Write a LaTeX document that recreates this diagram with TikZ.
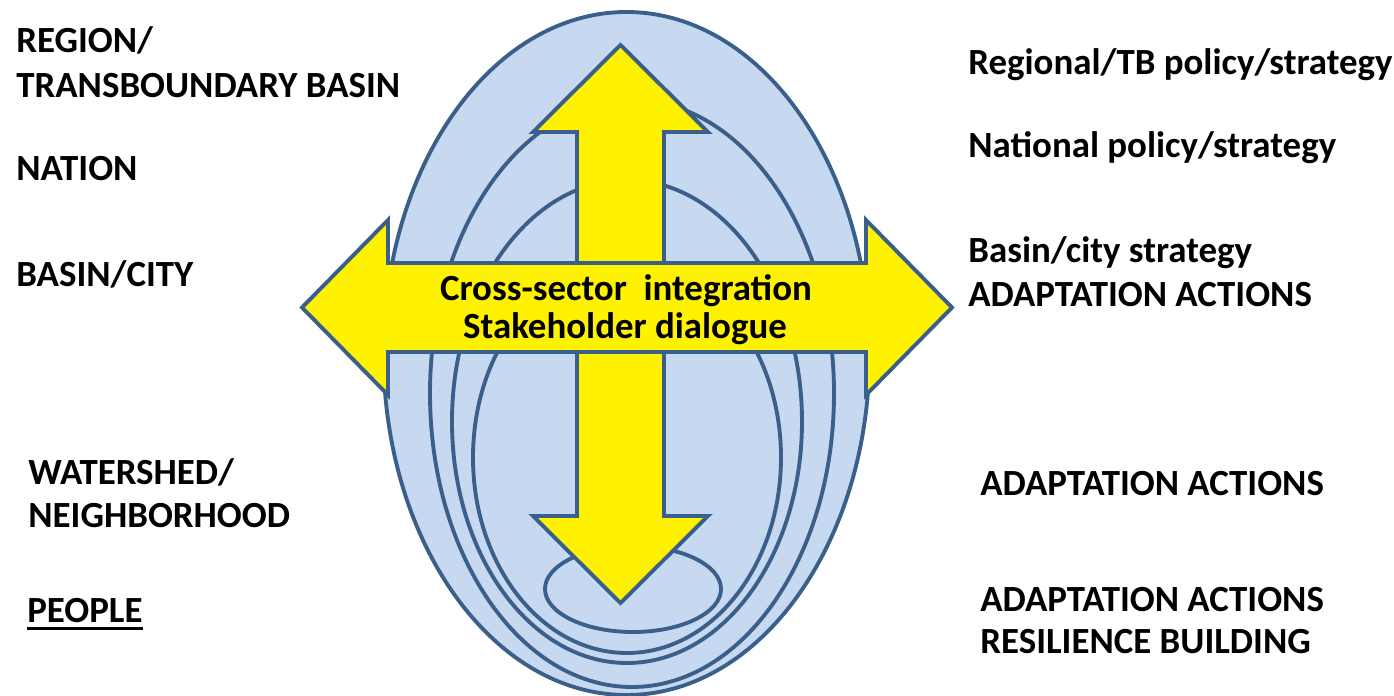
\documentclass[tikz,border=0pt]{standalone}
\usepackage{fontspec}
\setmainfont{Carlito}
\definecolor{ringblue}{HTML}{3A5F8B}
\definecolor{ringfill}{HTML}{C6D9F0}
\begin{document}
\begin{tikzpicture}[x=0.02cm,y=-0.02cm,
  ring/.style={draw=ringblue, line width=2.2pt, fill=ringfill},
  arrowshape/.style={draw=ringblue, line width=2.2pt, fill=yellow, line join=miter},
  lbl/.style={anchor=base west, inner sep=0pt, font=\fontsize{21}{25}\selectfont\bfseries},
  midlbl/.style={anchor=base, inner sep=0pt, font=\fontsize{21}{25}\selectfont\bfseries}]
\useasboundingbox (0,0) rectangle (1394,696);

% nested governance levels
\draw[ring] (626.5,353.5) ellipse [x radius=243, y radius=341.5];
\draw[ring] (632,393.5) ellipse [x radius=202, y radius=293.5];
\draw[ring] (627,421.5) ellipse [x radius=175, y radius=241.5];
\draw[ring] (627,457.5) ellipse [x radius=154, y radius=195.5];
\draw[ring] (633,589) ellipse [x radius=88, y radius=43];

% vertical double arrow
\draw[arrowshape] (620.5,45) -- (708,132) -- (664,132) -- (664,516) -- (708,516)
  -- (620.5,603) -- (533,516) -- (577,516) -- (577,132) -- (533,132) -- cycle;

% horizontal double arrow
\draw[arrowshape] (302,307.5) -- (388,220) -- (388,263) -- (866,263) -- (866,220)
  -- (952,307.5) -- (866,395) -- (866,352) -- (388,352) -- (388,395) -- cycle;

\node[midlbl] (cross) at (626,300) {Cross-sector\ \ integration};
\node[midlbl] (stake) at (625,338) {Stakeholder dialogue};

% scale levels
\node[lbl] (region1) at (16,53) {REGION/};
\node[lbl] (region2) at (16,98) {TRANSBOUNDARY BASIN};
\node[lbl] (nation) at (16,181) {NATION};
\node[lbl] (basin) at (16,286) {BASIN/CITY};
\node[lbl] (water1) at (28,484) {WATERSHED/};
\node[lbl] (water2) at (28,527) {NEIGHBORHOOD};
\node[lbl] (people) at (27,622) {PEOPLE};
\draw[line width=1.7pt] ([yshift=-3.6pt]people.base west) -- ([yshift=-3.6pt]people.base east);

% responses at each level
\node[lbl] (rpol) at (968,75) {Regional/TB policy/strategy};
\node[lbl] (npol) at (968,158) {National policy/strategy};
\node[lbl] (bstr) at (968,262) {Basin/city strategy};
\node[lbl] (bact) at (968,306) {ADAPTATION ACTIONS};
\node[lbl] (wact) at (980,495) {ADAPTATION ACTIONS};
\node[lbl] (pact) at (980,611) {ADAPTATION ACTIONS};
\node[lbl] (pres) at (980,653) {RESILIENCE BUILDING};
\end{tikzpicture}
\end{document}
